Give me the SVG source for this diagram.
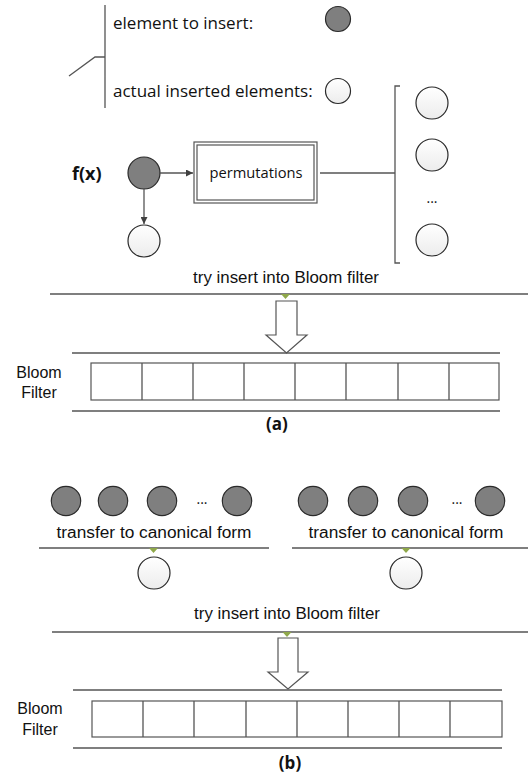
<svg xmlns="http://www.w3.org/2000/svg" width="528" height="777" viewBox="0 0 528 777">
<defs>
<linearGradient id="lg" x1="0" y1="0" x2="0" y2="1"><stop offset="0" stop-color="#ffffff"/><stop offset="1" stop-color="#ececec"/></linearGradient>
<marker id="ah" viewBox="0 0 10 10" refX="10" refY="5" markerWidth="7" markerHeight="7" orient="auto" markerUnits="userSpaceOnUse"><path d="M0,0 L10,5 L0,10 z" fill="#404040"/></marker>
<style>
.ln{stroke:#555;stroke-width:1.3;fill:none}
.dk{fill:#7f7f7f;stroke:#2a2a2a;stroke-width:1.2}
.wt{fill:url(#lg);stroke:#2a2a2a;stroke-width:1.2}
.t1{font-family:"Open Sans","Liberation Sans",sans-serif;fill:#111}
.t2{font-family:"Liberation Sans",Arial,sans-serif;fill:#111}
.bd{font-family:"Open Sans","Liberation Sans",sans-serif;font-weight:bold;fill:#111}
.cell{fill:#fff;stroke:#555;stroke-width:1.2}
.tri{fill:#8fa84a}
.blk{fill:#fff;stroke:#555;stroke-width:1.2}
</style>
</defs>
<g id="legend">
<path class="ln" d="M105,5 V108 M105,57 H95 L69,76"/>
<text class="t1" x="113" y="29" font-size="17">element to insert:</text>
<circle class="dk" cx="338" cy="19" r="12.5"/>
<text class="t1" x="113" y="97" font-size="17">actual inserted elements:</text>
<circle class="wt" cx="338" cy="91" r="12.5"/>
</g>
<g id="fx"><text class="bd" x="72" y="180" font-size="18">f(x)</text></g>
<g id="elem-a"><circle class="dk" cx="144" cy="173" r="16"/></g>
<g id="perm">
<rect x="194" y="142" width="123" height="61" fill="#fff" stroke="#555" stroke-width="1.2"/>
<rect x="197" y="145" width="117" height="55" fill="none" stroke="#555" stroke-width="1.2"/>
<text class="t1" x="256" y="178" text-anchor="middle" font-size="14.7">permutations</text>
</g>
<g id="canon-a"><circle class="wt" cx="144" cy="241" r="16"/></g>
<g id="perm-set">
<path class="ln" d="M400,86 H395 V263 H400"/>
<circle class="wt" cx="432" cy="103" r="16"/>
<circle class="wt" cx="432" cy="155" r="16"/>
<text class="t1" x="432" y="203" text-anchor="middle" font-size="14">...</text>
<circle class="wt" cx="432" cy="240" r="16"/>
</g>
<g id="connectors">
<line class="ln" x1="160" y1="173" x2="193" y2="173" marker-end="url(#ah)"/>
<line class="ln" x1="144" y1="189" x2="144" y2="224" marker-end="url(#ah)"/>
<line class="ln" x1="320" y1="173" x2="395" y2="173"/>
<line class="ln" x1="50" y1="294" x2="528" y2="294"/>
<path class="tri" d="M281,294 H290 L285.5,299 z"/>
<path class="blk" d="M276,301 H297 V335 H307 L286.5,353 L266,335 H276 z"/>
<line class="ln" x1="39" y1="548" x2="269" y2="548"/>
<line class="ln" x1="292" y1="548" x2="528" y2="548"/>
<path class="tri" d="M149,548 H158 L153.5,553 z"/>
<path class="tri" d="M401.5,548 H410.5 L406,553 z"/>
<line class="ln" x1="52" y1="632" x2="528" y2="632"/>
<path class="tri" d="M282.5,632 H291.5 L287,637 z"/>
<path class="blk" d="M278,638 H298 V672 H308 L288,689 L268,672 H278 z"/>
</g>
<g id="label-try-a"><text class="t2" x="286" y="283" text-anchor="middle" font-size="16.9">try insert into Bloom filter</text></g>
<g id="bloom-a">
<line class="ln" x1="72" y1="353" x2="500" y2="353"/>
<text class="t2" x="39" y="378" text-anchor="middle" font-size="16">Bloom</text>
<text class="t2" x="39" y="398" text-anchor="middle" font-size="16">Filter</text>
<rect class="cell" x="91" y="363" width="408" height="37"/>
<path class="ln" d="M142,363 V400 M193,363 V400 M244,363 V400 M295,363 V400 M346,363 V400 M398,363 V400 M449,363 V400"/>
<line class="ln" x1="72" y1="411" x2="500" y2="411"/>
<text class="bd" x="277" y="430" text-anchor="middle" font-size="17">(a)</text>
</g>
<g id="group-left">
<circle class="dk" cx="66" cy="501" r="14.7"/>
<circle class="dk" cx="113" cy="501" r="14.7"/>
<circle class="dk" cx="162" cy="501" r="14.7"/>
<text class="t1" x="202" y="504" text-anchor="middle" font-size="14">...</text>
<circle class="dk" cx="237" cy="501" r="14.7"/>
<text class="t2" x="154" y="538" text-anchor="middle" font-size="17.3">transfer to canonical form</text>
<circle class="wt" cx="154" cy="573" r="16"/>
</g>
<g id="group-right">
<circle class="dk" cx="313" cy="501" r="14.7"/>
<circle class="dk" cx="363" cy="501" r="14.7"/>
<circle class="dk" cx="413" cy="501" r="14.7"/>
<text class="t1" x="457" y="504" text-anchor="middle" font-size="14">...</text>
<circle class="dk" cx="490" cy="501" r="14.7"/>
<text class="t2" x="406" y="538" text-anchor="middle" font-size="17.3">transfer to canonical form</text>
<circle class="wt" cx="406" cy="573" r="16"/>
</g>
<g id="label-try-b"><text class="t2" x="287" y="619" text-anchor="middle" font-size="16.9">try insert into Bloom filter</text></g>
<g id="bloom-b">
<line class="ln" x1="73" y1="690" x2="502" y2="690"/>
<text class="t2" x="40" y="714" text-anchor="middle" font-size="16">Bloom</text>
<text class="t2" x="40" y="735" text-anchor="middle" font-size="16">Filter</text>
<rect class="cell" x="92" y="701" width="410" height="36"/>
<path class="ln" d="M143,701 V737 M194,701 V737 M246,701 V737 M297,701 V737 M348,701 V737 M399,701 V737 M450,701 V737"/>
<line class="ln" x1="73" y1="748" x2="502" y2="748"/>
<text class="bd" x="290" y="769" text-anchor="middle" font-size="17">(b)</text>
</g>
</svg>
